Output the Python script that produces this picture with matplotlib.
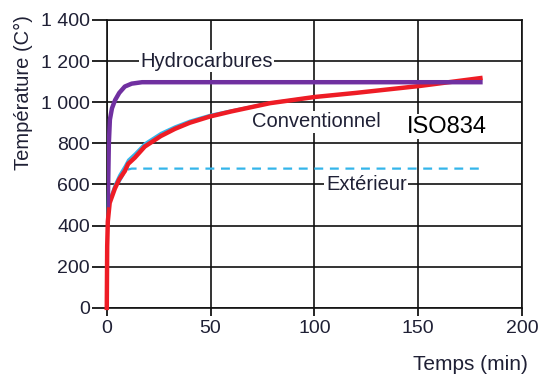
import numpy as np
import matplotlib
matplotlib.use('Agg')
import matplotlib.pyplot as plt

plt.rcParams['font.family'] = ['Liberation Sans', 'DejaVu Sans']

# Hydrocarbures curve
hc_t = [0, 0.2, 0.5, 1, 1.5, 2.5, 4, 6, 8.7, 12, 17, 30, 60, 120, 180]
hc_T = [20, 300, 500, 800, 915, 970, 1010, 1045, 1076, 1090, 1097, 1097, 1097, 1097, 1097]

# ISO834 curve (red) and Conventionnel curve (light blue, under it)
iso_t = [0, 0.2, 0.5, 1.4, 3.9, 6, 8.7, 10.3, 13.5, 18.3, 26, 32.8, 40, 49.6, 60, 78.6, 100, 120, 151, 180]
iso_T = [0, 300, 420, 510, 580, 625, 665, 700, 730, 784, 835, 870, 900, 930, 955, 995, 1025, 1045, 1079, 1117]
conv_T = [0, 310, 440, 530, 600, 645, 690, 720, 750, 800, 850, 882, 910, 938, 960, 998, 1027, 1046, 1079, 1112]

# Exterieur curve (its start is hidden under the red one)
ext_t = [6, 8.5, 10, 12, 181]
ext_T = [610, 655, 672, 677, 677]

ticks_x = [0, 50, 100, 150, 200]
ticks_y = [0, 200, 400, 600, 800, 1000, 1200, 1400]
ylabels = ['0', '200', '400', '600', '800', '1 000', '1 200', '1 400']

text_col = '#1f2035'
fig = plt.figure(figsize=(5.42, 3.75), dpi=100)
ax = fig.add_axes([0.197, 0.179, 0.766, 0.768])

ax.plot(ext_t, ext_T, color='#33b5ea', lw=1.6, ls=(0, (4, 3)), zorder=3)
ax.plot(iso_t, conv_T, color='#33b5ea', lw=1.6, zorder=3, clip_on=False)
ax.plot(hc_t, hc_T, color='#33b5ea', lw=1.6, zorder=3, clip_on=False)
ax.plot(iso_t, iso_T, color='#ee1c25', lw=3.2, zorder=4, clip_on=False)
ax.plot(hc_t[2:], hc_T[2:], color='#7030a0', lw=3.2, zorder=5)

ax.set_xlim(0, 200)
ax.set_ylim(0, 1400)
ax.set_xticks(ticks_x)
ax.set_yticks(ticks_y)
ax.set_yticklabels(ylabels)
ax.grid(True, color='#111111', lw=1.2, zorder=1)
for s in ax.spines.values():
    s.set_color('#111111')
    s.set_linewidth(1.2)
ax.tick_params(axis='y', length=11, width=1.2, pad=1, labelsize=14, labelcolor=text_col)
ax.tick_params(axis='x', length=6, width=1.2, pad=3, labelsize=14, labelcolor=text_col)

bbox = dict(facecolor='white', edgecolor='none', pad=1)
ax.text(48, 1200, 'Hydrocarbures', fontsize=14.5, color=text_col, ha='center', va='center', bbox=bbox, zorder=6)
ax.text(101, 905, 'Conventionnel', fontsize=14.5, color=text_col, ha='center', va='center', bbox=bbox, zorder=6)
ax.text(164, 880, 'ISO834', fontsize=17, color='black', ha='center', va='center', bbox=bbox, zorder=6)
ax.text(125, 600, 'Extérieur', fontsize=14.5, color=text_col, ha='center', va='center', bbox=bbox, zorder=6)

fig.text(0.043, 1 - 93 / 375, 'Température (C°)', rotation=90, fontsize=14.5, color=text_col, ha='center', va='center')
fig.text(528 / 542, 1 - 364 / 375, 'Temps (min)', fontsize=15, color=text_col, ha='right', va='center')

fig.savefig('out.png', dpi=100)
